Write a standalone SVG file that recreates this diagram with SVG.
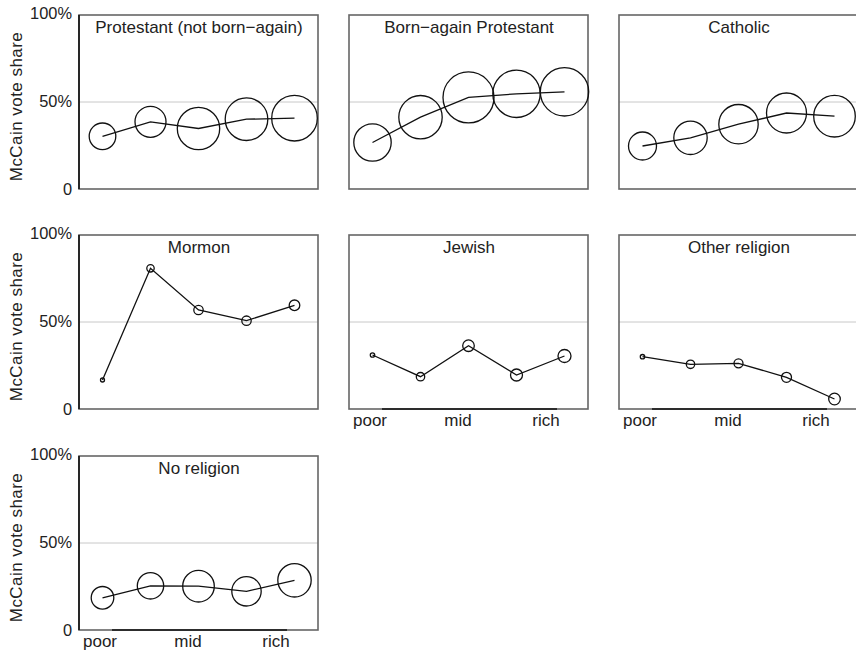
<svg xmlns="http://www.w3.org/2000/svg" width="856" height="654" viewBox="0 0 856 654">
<style>
text{font-family:"Liberation Sans",Arial,sans-serif;font-size:17px;fill:#222}
.box{fill:none;stroke:#666;stroke-width:1.6}
.ref{stroke:#c8c8c8;stroke-width:1}
.yax{stroke:#111;stroke-width:1.6}
.xax{stroke:#111;stroke-width:1.6}
.line{fill:none;stroke:#111;stroke-width:1.3}
.pt{fill:none;stroke:#111;stroke-width:1.3}
.t{text-anchor:middle}
.yl{text-anchor:end;font-size:16.4px}
</style>
<rect width="856" height="654" fill="#fff"/>

<g id="panel-protestant" transform="translate(79,15)">
<line class="ref" x1="0" y1="87" x2="239" y2="87"/>
<rect class="box" x="0" y="0" width="239" height="174"/>
<line class="yax" x1="0" y1="0" x2="0" y2="174"/>
<text class="t" x="120" y="17.5">Protestant (not born−again)</text>
<g class="connectors"><polyline class="line" points="23.5,121.3 71.5,106.8 119.5,113.5 167.5,104.2 215.5,103.2"/></g>
<circle class="pt" cx="23.5" cy="121.3" r="13.3"/>
<circle class="pt" cx="71.5" cy="106.8" r="15.5"/>
<circle class="pt" cx="119.5" cy="113.5" r="21.2"/>
<circle class="pt" cx="167.5" cy="104.2" r="21.3"/>
<circle class="pt" cx="215.5" cy="103.2" r="22.8"/>
<text class="yl" x="-7" y="3.5">100%</text>
<text class="yl" x="-7" y="92">50%</text>
<text class="yl" x="-7" y="179.5">0</text>
<text class="t" transform="translate(-57,91.7) rotate(-90)" textLength="149" lengthAdjust="spacing">McCain vote share</text>
</g>

<g id="panel-bornagain" transform="translate(349,15)">
<line class="ref" x1="0" y1="87" x2="239" y2="87"/>
<rect class="box" x="0" y="0" width="239" height="174"/>
<text class="t" x="120" y="17.5">Born−again Protestant</text>
<g class="connectors"><polyline class="line" points="23.5,127.5 71.5,102.2 119.5,82.4 167.5,78.8 215.5,76.8"/></g>
<circle class="pt" cx="23.5" cy="127.5" r="18.7"/>
<circle class="pt" cx="71.5" cy="102.2" r="21.7"/>
<circle class="pt" cx="119.5" cy="82.4" r="25.5"/>
<circle class="pt" cx="167.5" cy="78.8" r="23.7"/>
<circle class="pt" cx="215.5" cy="76.8" r="24.2"/>
</g>

<g id="panel-catholic" transform="translate(619,15)">
<line class="ref" x1="0" y1="87" x2="239" y2="87"/>
<rect class="box" x="0" y="0" width="239" height="174"/>
<text class="t" x="120" y="17.5">Catholic</text>
<g class="connectors"><polyline class="line" points="23.5,131 71.5,122.8 119.5,109.2 167.5,98 215.5,101.2"/></g>
<circle class="pt" cx="23.5" cy="131" r="14"/>
<circle class="pt" cx="71.5" cy="122.8" r="16.7"/>
<circle class="pt" cx="119.5" cy="109.2" r="19.7"/>
<circle class="pt" cx="167.5" cy="98" r="20"/>
<circle class="pt" cx="215.5" cy="101.2" r="20.8"/>
</g>

<g id="panel-mormon" transform="translate(79,235)">
<line class="ref" x1="0" y1="87" x2="239" y2="87"/>
<rect class="box" x="0" y="0" width="239" height="174"/>
<line class="yax" x1="0" y1="0" x2="0" y2="174"/>
<text class="t" x="120" y="18">Mormon</text>
<g class="connectors"><polyline class="line" points="23.5,145 71.5,33.3 119.5,75 167.5,85.7 215.5,70.3"/></g>
<circle class="pt" cx="23.5" cy="145" r="2"/>
<circle class="pt" cx="71.5" cy="33.3" r="3.7"/>
<circle class="pt" cx="119.5" cy="75" r="4.7"/>
<circle class="pt" cx="167.5" cy="85.7" r="4.7"/>
<circle class="pt" cx="215.5" cy="70.3" r="5.3"/>
<text class="yl" x="-7" y="3.5">100%</text>
<text class="yl" x="-7" y="92">50%</text>
<text class="yl" x="-7" y="179.5">0</text>
<text class="t" transform="translate(-57,91.7) rotate(-90)" textLength="149" lengthAdjust="spacing">McCain vote share</text>
</g>

<g id="panel-jewish" transform="translate(349,235)">
<line class="ref" x1="0" y1="87" x2="239" y2="87"/>
<rect class="box" x="0" y="0" width="239" height="174"/>
<line class="xax" x1="33" y1="174" x2="208" y2="174"/>
<text class="t" x="120" y="18">Jewish</text>
<g class="connectors"><polyline class="line" points="23.5,120 71.5,141.7 119.5,110.7 167.5,140 215.5,121"/></g>
<circle class="pt" cx="23.5" cy="120" r="2.2"/>
<circle class="pt" cx="71.5" cy="141.7" r="4.2"/>
<circle class="pt" cx="119.5" cy="110.7" r="5.8"/>
<circle class="pt" cx="167.5" cy="140" r="6"/>
<circle class="pt" cx="215.5" cy="121" r="6.5"/>
<text class="t" x="21" y="191">poor</text>
<text class="t" x="109" y="191">mid</text>
<text class="t" x="197" y="191">rich</text>
</g>

<g id="panel-other" transform="translate(619,235)">
<line class="ref" x1="0" y1="87" x2="239" y2="87"/>
<rect class="box" x="0" y="0" width="239" height="174"/>
<line class="xax" x1="33" y1="174" x2="208" y2="174"/>
<text class="t" x="120" y="18">Other religion</text>
<g class="connectors"><polyline class="line" points="23.5,121.7 71.5,129.3 119.5,128.3 167.5,142.3 215.5,164"/></g>
<circle class="pt" cx="23.5" cy="121.7" r="2.2"/>
<circle class="pt" cx="71.5" cy="129.3" r="4.2"/>
<circle class="pt" cx="119.5" cy="128.3" r="4.5"/>
<circle class="pt" cx="167.5" cy="142.3" r="5"/>
<circle class="pt" cx="215.5" cy="164" r="5.8"/>
<text class="t" x="21" y="191">poor</text>
<text class="t" x="109" y="191">mid</text>
<text class="t" x="197" y="191">rich</text>
</g>

<g id="panel-none" transform="translate(79,456)">
<line class="ref" x1="0" y1="87" x2="239" y2="87"/>
<rect class="box" x="0" y="0" width="239" height="174"/>
<line class="yax" x1="0" y1="0" x2="0" y2="174"/>
<line class="xax" x1="33" y1="174" x2="208" y2="174"/>
<text class="t" x="120" y="17.5">No religion</text>
<g class="connectors"><polyline class="line" points="23.5,141.8 71.5,129.8 119.5,130.2 167.5,135.3 215.5,124.3"/></g>
<circle class="pt" cx="23.5" cy="141.8" r="11.3"/>
<circle class="pt" cx="71.5" cy="129.8" r="13.2"/>
<circle class="pt" cx="119.5" cy="130.2" r="15.8"/>
<circle class="pt" cx="167.5" cy="135.3" r="14.7"/>
<circle class="pt" cx="215.5" cy="124.3" r="16.7"/>
<text class="yl" x="-7" y="3.5">100%</text>
<text class="yl" x="-7" y="92">50%</text>
<text class="yl" x="-7" y="179.5">0</text>
<text class="t" transform="translate(-57,91.7) rotate(-90)" textLength="149" lengthAdjust="spacing">McCain vote share</text>
<text class="t" x="21" y="191">poor</text>
<text class="t" x="109" y="191">mid</text>
<text class="t" x="197" y="191">rich</text>
</g>
</svg>
